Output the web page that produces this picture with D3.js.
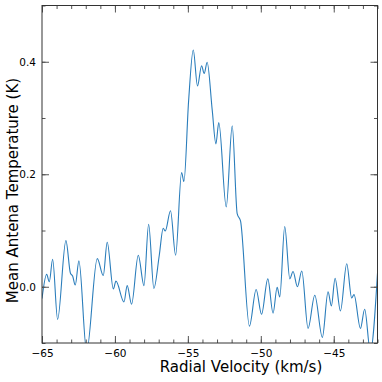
<!DOCTYPE html>
<html>
<head>
<meta charset="utf-8">
<script src="https://cdn.jsdelivr.net/npm/d3@7"></script>
<style>
  body { margin: 0; background: #fff; }
  svg text { font-family: "DejaVu Sans", sans-serif; fill: #000; }
</style>
</head>
<body>
<div id="chart"></div>
<script>
// spectrum (velocity in km/s, temperature in K)
const velocity = [
  -65.0, -64.68, -64.5, -64.27, -63.93, -63.36, -63.05, -62.9, -62.72, -62.47,
  -61.94, -61.21, -60.8, -60.53, -60.11, -59.93, -59.38, -59.16, -58.86, -58.4,
  -58.01, -57.69, -57.33, -56.96, -56.69, -56.55, -56.19, -55.84, -55.43, -55.27,
  -54.95, -54.63, -54.34, -54.06, -53.88, -53.68, -53.33, -53.08, -52.88, -52.37,
  -51.96, -51.62, -51.39, -50.78, -50.32, -49.95, -49.52, -49.16, -48.88, -48.7,
  -48.36, -48.01, -47.79, -47.49, -47.19, -46.76, -46.3, -45.78, -45.39, -45.16,
  -44.91, -44.54, -44.11, -43.77, -43.61, -43.17, -42.88, -42.49, -42.0
];
const temperature = [
  -0.021, 0.022, 0.009, 0.049, -0.058, 0.082, 0.024, 0.019, 0.003, 0.046,
  -0.115, 0.050, 0.020, 0.079, -0.004, 0.010, -0.027, 0.002, -0.031, 0.056,
  0.002, 0.111, -0.003, 0.056, 0.104, 0.099, 0.135, 0.056, 0.203, 0.187,
  0.33, 0.421, 0.357, 0.393, 0.379, 0.399, 0.314, 0.254, 0.292, 0.142,
  0.286, 0.130, 0.117, -0.070, -0.005, -0.049, 0.014, -0.047, -0.001, -0.018,
  0.107, 0.014, 0.027, 0.000, 0.028, -0.074, -0.015, -0.090, -0.009, -0.034,
  0.015, -0.043, 0.041, -0.020, -0.014, -0.074, -0.040, -0.115, 0.024
];
const xTicks = [-65, -60, -55, -50, -45];
const yTicks = [0.0, 0.2, 0.4];

const width = 382;
const height = 382;
const margin = { top: 5.5, right: 4.5, bottom: 39, left: 42 };
const innerW = width - margin.left - margin.right;
const innerH = height - margin.top - margin.bottom;

const svg = d3.select('#chart')
  .append('svg')
  .attr('width', width)
  .attr('height', height);

const g = svg.append('g')
  .attr('transform', `translate(${margin.left},${margin.top})`);

const x = d3.scaleLinear().domain([-65, -42]).range([0, innerW]);
const y = d3.scaleLinear().domain([-0.1, 0.5]).range([innerH, 0]);

g.append('clipPath').attr('id', 'clip')
  .append('rect').attr('width', innerW).attr('height', innerH);

const data = velocity.map((v, i) => ({ v, t: temperature[i] }));

const line = d3.line()
  .x(d => x(d.v))
  .y(d => y(d.t))
  .curve(d3.curveMonotoneX);

g.append('path')
  .datum(data)
  .attr('clip-path', 'url(#clip)')
  .attr('fill', 'none')
  .attr('stroke', '#2a7dbb')
  .attr('stroke-width', 1.1)
  .attr('d', line);

// inward ticks on all four sides
const xMinor = d3.range(-65, -41, 1);
const yMinor = d3.range(-0.1, 0.51, 0.1);
const tickCol = '#555';

function ticks(axisGen, tr) {
  g.append('g').attr('transform', tr).call(axisGen)
    .call(a => a.select('.domain').remove())
    .call(a => a.selectAll('line').attr('stroke', tickCol));
}
ticks(d3.axisTop(x).tickValues(xMinor).tickSize(3.5).tickFormat(''), `translate(0,${innerH})`);
ticks(d3.axisTop(x).tickValues(xTicks).tickSize(7).tickFormat(''), `translate(0,${innerH})`);
ticks(d3.axisBottom(x).tickValues(xMinor).tickSize(3.5).tickFormat(''), 'translate(0,0)');
ticks(d3.axisBottom(x).tickValues(xTicks).tickSize(7).tickFormat(''), 'translate(0,0)');
ticks(d3.axisRight(y).tickValues(yMinor).tickSize(3.5).tickFormat(''), 'translate(0,0)');
ticks(d3.axisRight(y).tickValues(yTicks).tickSize(7).tickFormat(''), 'translate(0,0)');
ticks(d3.axisLeft(y).tickValues(yMinor).tickSize(3.5).tickFormat(''), `translate(${innerW},0)`);
ticks(d3.axisLeft(y).tickValues(yTicks).tickSize(7).tickFormat(''), `translate(${innerW},0)`);

// frame
g.append('rect')
  .attr('width', innerW).attr('height', innerH)
  .attr('fill', 'none').attr('stroke', '#333').attr('stroke-width', 1);

// tick labels
g.append('g').attr('transform', `translate(0,${innerH})`)
  .call(d3.axisBottom(x).tickValues(xTicks).tickSize(0).tickPadding(7).tickFormat(d3.format('d')))
  .call(a => a.select('.domain').remove())
  .call(a => a.selectAll('text').attr('font-size', 10.5).attr('font-family', 'DejaVu Sans'));

g.append('g')
  .call(d3.axisLeft(y).tickValues(yTicks).tickSize(0).tickPadding(6).tickFormat(d3.format('.1f')))
  .call(a => a.select('.domain').remove())
  .call(a => a.selectAll('text').attr('font-size', 10.5).attr('font-family', 'DejaVu Sans'));

// axis titles
svg.append('text')
  .attr('x', 241).attr('y', 372)
  .attr('text-anchor', 'middle')
  .attr('font-size', 15)
  .text('Radial Velocity (km/s)');

svg.append('text')
  .attr('transform', 'translate(17.5,190.5) rotate(-90)')
  .attr('text-anchor', 'middle')
  .attr('font-size', 15)
  .text('Mean Antena Temperature (K)');
</script>
</body>
</html>
